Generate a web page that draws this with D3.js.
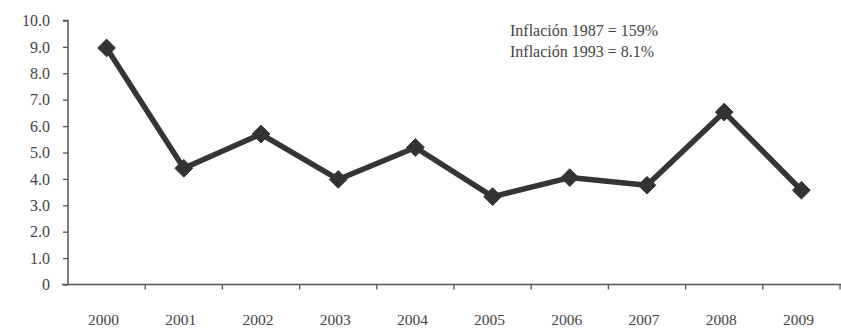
<!DOCTYPE html>
<html>
<head>
<meta charset="utf-8">
<script src="https://cdn.jsdelivr.net/npm/d3@7"></script>
<style>
  body { margin: 0; background: #fff; }
  svg text { font-family: "Liberation Serif", "DejaVu Serif", serif; fill: #444; }
</style>
</head>
<body>
<div id="chart"></div>
<script>
// Inflation data
const years = ["2000","2001","2002","2003","2004","2005","2006","2007","2008","2009"];
const inflation = [8.96, 4.40, 5.70, 3.98, 5.19, 3.33, 4.05, 3.76, 6.53, 3.57];
const yTicks = [0,1,2,3,4,5,6,7,8,9,10];
const notes = ["Inflación 1987 = 159%", "Inflación 1993 = 8.1%"];

const width = 841, height = 328;
const margin = {top: 20.5, right: 1, bottom: 43.5, left: 68};

const svg = d3.select('#chart').append('svg')
    .attr('width', width).attr('height', height);

const x = d3.scaleBand()
    .domain(years)
    .range([margin.left, margin.left + 772]);
const y = d3.scaleLinear()
    .domain([0, 10])
    .range([height - margin.bottom, margin.top]);

// Y axis
const yAxis = svg.append('g')
    .attr('transform', `translate(${margin.left},0)`)
    .call(d3.axisLeft(y).tickValues(yTicks).tickSize(5).tickPadding(13)
        .tickFormat(d => d === 0 ? '0' : d3.format('.1f')(d)));
yAxis.select('.domain').attr('stroke', '#555').attr('stroke-width', 1.5).attr('d', `M-5,${y(10)}H0V${y(0)}`);
yAxis.selectAll('.tick line').attr('stroke', '#555').attr('stroke-width', 1.3);
yAxis.selectAll('.tick text').attr('font-size', 16).attr('fill', '#555');

// X axis
const xAxis = svg.append('g')
    .attr('transform', `translate(0,${y(0)})`);
xAxis.append('line')
    .attr('x1', margin.left - 6).attr('x2', width)
    .attr('stroke', '#555').attr('stroke-width', 1.5);
xAxis.selectAll('line.tick')
    .data(years.slice(1).concat(['end']))
    .join('line')
    .classed('tick', true)
    .attr('x1', (d, i) => margin.left + (i + 1) * x.step())
    .attr('x2', (d, i) => margin.left + (i + 1) * x.step())
    .attr('y1', 0).attr('y2', 5)
    .attr('stroke', '#555').attr('stroke-width', 1.3);
xAxis.selectAll('text')
    .data(years)
    .join('text')
    .attr('x', d => x(d) + x.bandwidth() / 2 - 3)
    .attr('y', 40)
    .attr('text-anchor', 'middle')
    .attr('font-size', 15.5)
    .attr('fill', '#555')
    .text(d => d);

// Line
const line = d3.line()
    .x((d, i) => x(years[i]) + x.bandwidth() / 2)
    .y(d => y(d));
svg.append('path')
    .datum(inflation)
    .attr('fill', 'none')
    .attr('stroke', '#353535')
    .attr('stroke-width', 5.5)
    .attr('stroke-linejoin', 'round')
    .attr('d', line);

// Diamond markers
svg.selectAll('path.marker')
    .data(inflation)
    .join('path')
    .classed('marker', true)
    .attr('transform', (d, i) => `translate(${x(years[i]) + x.bandwidth() / 2},${y(d)})`)
    .attr('d', d3.symbol(d3.symbolDiamond2, 200)())
    .attr('fill', '#333')
    .attr('stroke', '#333')
    .attr('stroke-width', 1);

// Notes
svg.selectAll('text.note')
    .data(notes)
    .join('text')
    .classed('note', true)
    .attr('x', 510)
    .attr('y', (d, i) => 36 + i * 21)
    .attr('font-size', 16)
    .attr('fill', '#444')
    .text(d => d);
</script>
</body>
</html>
